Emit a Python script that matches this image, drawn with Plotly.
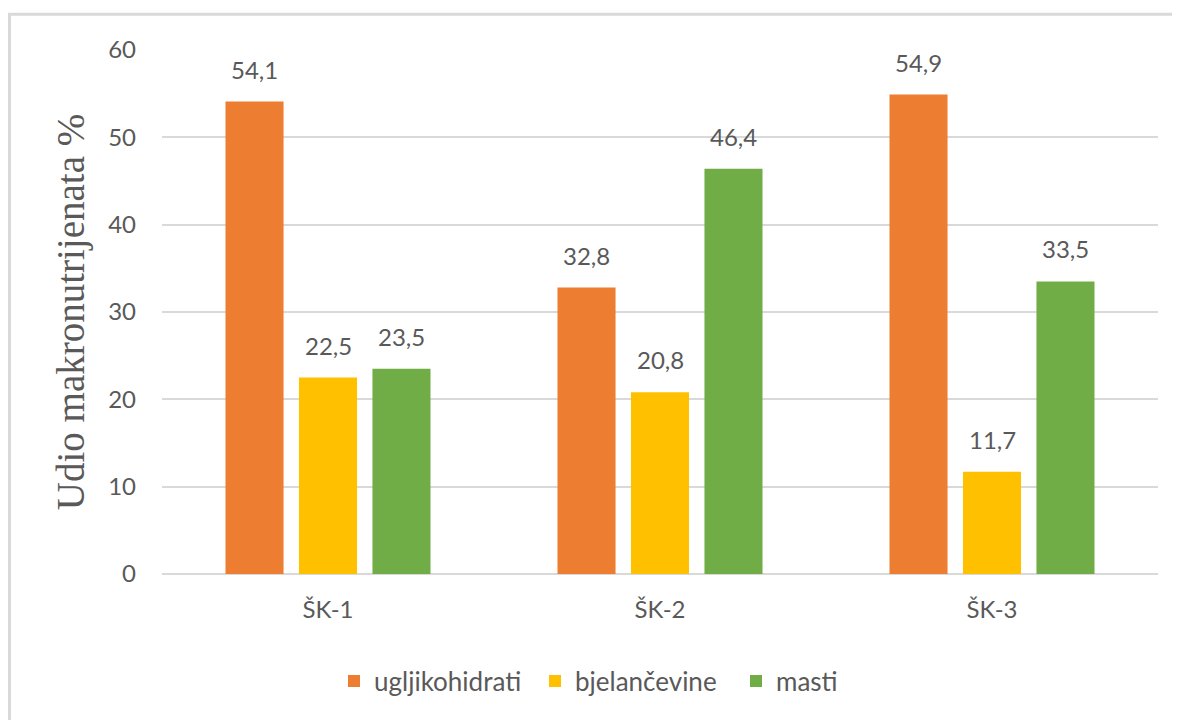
import plotly.graph_objects as go

categories = ["ŠK-1", "ŠK-2", "ŠK-3"]
series_names = ["ugljikohidrati", "bjelančevine", "masti"]
ugljikohidrati = [54.1, 32.8, 54.9]
bjelancevine = [22.5, 20.8, 11.7]
masti = [23.5, 46.4, 33.5]
y_ticks = [0, 10, 20, 30, 40, 50, 60]

colors = ["#ED7D31", "#FFC000", "#70AD47"]
series_values = [ugljikohidrati, bjelancevine, masti]

BARGAP = 0.336
BARGROUPGAP = 0.21
TEXT_COLOR = "#595959"
FONT = "Lato"

# figure is placed at an 8px page-body offset, so size is reduced accordingly
W, H = 1172, 712
ML, MR, MT, MB = 154, 22, 42, 146
PW, PH = W - ML - MR, H - MT - MB

fig = go.Figure()
for name, vals, col in zip(series_names, series_values, colors):
    fig.add_trace(go.Bar(
        x=categories, y=vals, name=name,
        marker=dict(color=col, line=dict(width=0)),
    ))

# data labels above bars
n = len(series_values)
slot = (1 - BARGAP) / n
annotations = []
for j, vals in enumerate(series_values):
    for i, v in enumerate(vals):
        annotations.append(dict(
            x=i + (j - (n - 1) / 2) * slot, y=v, xref="x", yref="y",
            text=f"{v:.1f}".replace(".", ","), showarrow=False,
            yanchor="bottom", yshift=16,
            font=dict(family=FONT, size=24, color=TEXT_COLOR),
        ))

fig.update_layout(
    width=W, height=H,
    paper_bgcolor="white", plot_bgcolor="white",
    margin=dict(l=ML, r=MR, t=MT, b=MB),
    barmode="group", bargap=BARGAP, bargroupgap=BARGROUPGAP,
    font=dict(family=FONT, size=24, color=TEXT_COLOR),
    showlegend=True,
    legend=dict(orientation="h", x=(326 - ML) / PW, xanchor="left",
                y=(566 - 673) / PH, yanchor="middle",
                font=dict(family=FONT, size=26, color=TEXT_COLOR),
                itemwidth=30, tracegroupgap=0,
                entrywidth=156, entrywidthmode="pixels"),
    annotations=annotations,
    shapes=[dict(type="rect", xref="paper", yref="paper",
                 x0=(1.5 - ML) / PW, x1=(W + 20 - ML) / PW,
                 y0=(566 - H - 20) / PH, y1=(566 - 6.3) / PH,
                 line=dict(color="#D9D9D9", width=3), fillcolor="rgba(0,0,0,0)",
                 layer="below")],
)
fig.update_yaxes(
    range=[0, 60], tickvals=y_ticks, showgrid=True, gridcolor="#D9D9D9", gridwidth=2,
    zeroline=True, zerolinecolor="#D9D9D9", zerolinewidth=2,
    showline=False, ticks="", ticklabelstandoff=25,
    tickfont=dict(family=FONT, size=24, color=TEXT_COLOR),
    title=dict(text="Udio makronutrijenata %", standoff=11,
               font=dict(family="Liberation Serif", size=39, color=TEXT_COLOR)),
)
fig.update_xaxes(
    showline=False, ticks="", ticklabelstandoff=19, showgrid=False,
    tickfont=dict(family=FONT, size=24, color=TEXT_COLOR),
)

fig.write_html("out.html")
